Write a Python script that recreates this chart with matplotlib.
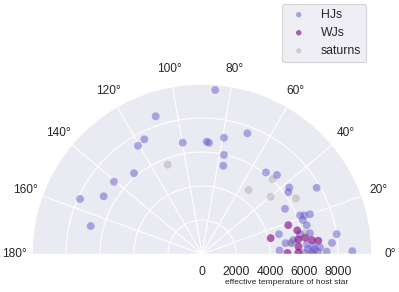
import numpy as np
import matplotlib
matplotlib.use("Agg")
import matplotlib.pyplot as plt
import seaborn as sns

sns.set_theme(style="darkgrid", context="paper")
plt.rcParams['font.family'] = ['Liberation Sans', 'DejaVu Sans']

# HJs: angle (deg), effective temperature (K)
hj_theta = [85.4, 108.6, 116.7, 120.6, 99.8, 130.1, 140.6, 149.6, 155.7, 165.9,
            87.6, 86.4, 79.3, 69.4, 77.5, 76.4, 51.9, 46.5, 37.3, 35.6,
            30.0, 28.6, 21.5, 20.7, 20.2, 18.7, 15.4, 14.4, 8.4, 4.9,
            1.1, 7.4, 6.9, 10.9, 5.3, 3.8, 3.2, 1.1, 2.6, 2.7,
            1.1, 2.5, 1.0, 0.8, 0.3, 8.7, 11.5]
hj_teff = [9677, 8546, 7552, 7400, 6645, 6207, 6700, 6705, 7871, 6750,
           6611, 6559, 6963, 7583, 5966, 5343, 6095, 6407, 6455, 6244,
           7793, 5560, 6198, 6433, 6768, 6251, 6387, 4675, 8008, 7675,
           8842, 4953, 5302, 6467, 6184, 6560, 6952, 7336, 4563, 6242,
           6412, 6653, 6823, 6000, 6529, 5434, 5883]

wj_theta = [18.5, 13.9, 13.0, 8.6, 4.4, 7.2, 6.5, 0.7, 0.8, 9.0]
wj_teff = [5352, 5774, 4146, 5728, 5694, 6521, 6884, 5030, 5665, 6134]

sat_theta = [111.0, 46.7, 54.0, 39.8, 30.6, 11.4, 7.2]
sat_teff = [5627, 6046, 4653, 5258, 6421, 6179, 5277]

r_ticks = [0, 2000, 4000, 6000, 8000]

W, H = 399, 292
fig = plt.figure(figsize=(W / 100, H / 100), dpi=100)
# square box (340 px) whose centre is at (202, 169): the half-disk then has
# radius 170 px with its centre at (202, 254)
ax = fig.add_axes([32 / W, (H - 339) / H, 340 / W, 340 / H], projection='polar')
ax.set_thetamin(0)
ax.set_thetamax(180)

ax.scatter(np.deg2rad(hj_theta), hj_teff, s=32, color='slateblue', alpha=0.5,
           edgecolors='none', label='HJs')
ax.scatter(np.deg2rad(wj_theta), wj_teff, s=32, color='purple', alpha=0.6,
           edgecolors='none', label='WJs')
ax.scatter(np.deg2rad(sat_theta), sat_teff, s=32, color='gray', alpha=0.3,
           edgecolors='none', label='saturns')

ax.set_ylim(0, 10000)
ax.set_yticks(r_ticks)
ax.set_thetagrids(np.arange(0, 181, 20))
ax.tick_params(axis='x', labelsize=8.6, pad=1)
ax.tick_params(axis='y', labelsize=8.8)

fig.text(287 / W, 1 - 283 / H, 'effective temperature of host star', fontsize=6,
         ha='center', va='center', color='#262626')

fig.legend(loc='upper right', bbox_to_anchor=(366 / W, 1 - 4 / H),
           bbox_transform=fig.transFigure, borderaxespad=0, fontsize=8.8,
           markerscale=0.7, frameon=True)

fig.savefig('out.png', dpi=100)
